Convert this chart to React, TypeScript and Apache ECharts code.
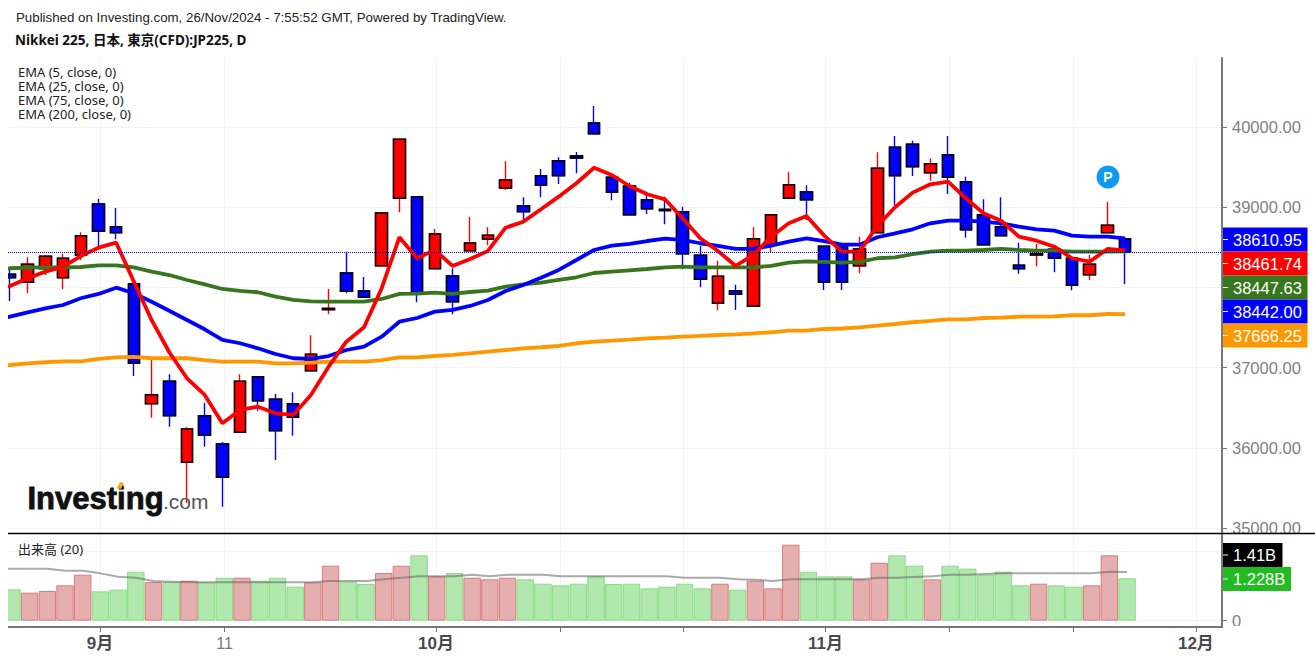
import React, { useEffect, useRef } from "react";
import * as echarts from "echarts";

const opens = [38163,38063,38233,38121,38400,39040,38757,38046,36550,36829,35819,36400,36047,36193,36886,36604,36550,36961,37722,38179,37955,38270,39111,39131,38233,38142,38457,38603,39239,39019,39393,39580,39638,40050,39373,39264,39093,38973,38944,38400,37802,37955,37764,38532,39111,39189,38512,38512,38270,38682,39747,39784,39430,39655,39318,38906,38757,38275,38404,38475,38363,38158,38682,38607];
const closes = [38121,38288,38388,38363,38645,38699,38682,37053,36662,36400,36234,36159,35632,36829,36587,36213,36380,37166,37738,37951,37876,38928,39847,37934,38666,37821,38553,38649,39339,38944,39277,39393,39613,39916,39186,38906,38981,38957,38420,38101,38138,37914,38607,38906,39280,39093,38063,38063,38479,39485,39393,39505,39542,39373,38719,38532,38645,38233,38420,38363,38026,38288,38774,38442];
const lows = [37830,37926,38154,37980,38341,38487,38600,36895,36375,36263,35311,36013,35265,36193,36462,35847,36150,36961,37664,37926,37876,38270,38936,37814,38233,37664,38457,38525,39214,38819,39123,39289,39423,39916,39086,38906,38915,38787,38225,38001,37718,37718,37764,38438,39111,38840,37967,37967,38176,38682,39027,39389,39330,39165,38620,38532,38645,38171,38267,38188,37964,38092,38682,38038];
const highs = [38225,38375,38404,38416,38687,39102,38990,38092,37116,36916,36255,36562,36072,36916,36886,36671,36692,37402,37980,38445,38129,38928,39847,39131,38728,38238,38878,38749,39572,39123,39476,39622,39688,40262,39373,39305,39193,39131,39006,38516,38333,38033,38749,38906,39435,39273,38512,38512,38632,39685,39888,39829,39610,39888,39380,39098,39123,38557,38541,38532,38383,38404,39065,38607];
const ema5 = [38017,38113,38196,38258,38391,38495,38557,38071,37593,37191,36866,36658,36305,36471,36512,36430,36409,36658,37011,37323,37502,37989,38625,38363,38466,38267,38354,38454,38744,38819,38974,39131,39298,39492,39401,39264,39161,39098,38861,38612,38454,38267,38404,38632,38799,38890,38645,38445,38445,38765,38999,39181,39285,39318,39111,38924,38832,38632,38582,38507,38363,38320,38479,38462];
const ema25 = [37634,37689,37739,37780,37864,37918,37996,37926,37821,37709,37593,37477,37344,37303,37240,37169,37116,37107,37144,37219,37260,37385,37572,37618,37697,37718,37768,37843,37955,38030,38121,38217,38341,38466,38520,38541,38578,38607,38591,38550,38516,38479,38479,38520,38570,38610,38576,38532,38532,38625,38674,38724,38799,38832,38832,38819,38799,38757,38724,38707,38645,38632,38632,38611];
const ema75 = [38238,38245,38250,38250,38254,38275,38275,38250,38196,38154,38092,38038,37980,37955,37939,37884,37843,37826,37821,37821,37821,37855,37918,37921,37934,37918,37942,37959,38009,38038,38058,38092,38126,38179,38196,38213,38229,38250,38258,38250,38250,38250,38250,38267,38308,38325,38317,38308,38317,38363,38375,38413,38445,38457,38457,38466,38479,38466,38457,38457,38445,38445,38445,38448];
const ema200 = [37032,37053,37066,37078,37078,37107,37128,37132,37116,37116,37116,37094,37073,37073,37073,37053,37053,37061,37073,37073,37073,37094,37128,37128,37144,37157,37178,37198,37219,37240,37253,37269,37303,37323,37335,37348,37365,37373,37385,37394,37406,37415,37427,37440,37460,37460,37481,37487,37502,37522,37543,37565,37581,37602,37602,37618,37622,37634,37634,37639,37652,37652,37668,37666];
const volumes = [0.908,0.812,0.86,1.024,1.333,0.85,0.899,1.42,1.121,1.121,1.159,1.111,1.246,1.246,1.159,1.246,0.986,1.111,1.594,1.13,1.063,1.382,1.594,1.894,1.285,1.382,1.246,1.198,1.246,1.198,1.072,1.024,1.072,1.285,1.063,1.072,0.937,0.986,1.072,0.937,1.072,0.899,1.159,0.937,2.203,1.42,1.285,1.285,1.198,1.681,1.894,1.594,1.198,1.594,1.507,1.333,1.42,1.024,1.072,1.024,0.986,1.024,1.894,1.228];
const volumeMa = [1.507,1.507,1.507,1.449,1.449,1.372,1.275,1.246,1.15,1.13,1.111,1.111,1.111,1.111,1.111,1.111,1.111,1.111,1.15,1.15,1.15,1.198,1.246,1.285,1.285,1.285,1.333,1.285,1.333,1.333,1.333,1.285,1.285,1.285,1.285,1.285,1.285,1.285,1.246,1.246,1.246,1.198,1.188,1.15,1.198,1.198,1.198,1.198,1.198,1.246,1.246,1.266,1.285,1.333,1.333,1.353,1.372,1.372,1.372,1.372,1.372,1.372,1.42,1.41];
const priorEma5 = 37950;
const priorEma25 = 37590;
const priorEma75 = 38232;
const priorEma200 = 37015;
const priorVolumeMa = 1.507;

const monthTicks = [5.08, 12.12, 24.07, 31.07, 38.05, 46.07, 53.05, 60.06, 67];
const monthLabels: [number, string][] = [[5.08, "9月"], [12.12, "11"], [24.07, "10月"], [46.07, "11月"], [67, "12月"]];
const priceTicks = [35000, 36000, 37000, 38000, 39000, 40000];
const priceTags: [string, string][] = [["38610.95", "#0000ff"], ["38461.74", "#ff0000"], ["38447.63", "#38761d"], ["38442.00", "#0000ff"], ["37666.25", "#ff9800"]];
const emaLegend = ["EMA (5, close, 0)", "EMA (25, close, 0)", "EMA (75, close, 0)", "EMA (200, close, 0)"];
const lastClose = 38442;

const SANS = '"Liberation Sans", "Noto Sans CJK JP", sans-serif';
const NOTO = '"Noto Sans", "Noto Sans CJK JP", sans-serif';
const AXIS = "#777777";
// Volume panel is drawn a shade to the right of the candles, as in the source chart.
const VOL_SHIFT = 0.11;
const withPrior = (prior: number, a: number[]) => [[-1, prior], ...a.map((v, i) => [i, v])];
const whiteTick = (y: number) => ({ type: "line", z: 21, shape: { x1: 1223, y1: y, x2: 1228, y2: y }, style: { stroke: "#f0f0f0", lineWidth: 1 } });

export default function App() {
  const ref = useRef<HTMLDivElement>(null);
  useEffect(() => {
    document.body.style.margin = "0";
    const chart = echarts.init(ref.current!, null, { renderer: "svg" });
    const emaLine = (name: string, data: number[], prior: number, color: string) => ({
      name, type: "line", data: withPrior(prior, data), showSymbol: false, symbol: "none", silent: true, clip: true,
      lineStyle: { color, width: 3.8 }, xAxisIndex: 0, yAxisIndex: 0,
    });
    const splitLine = { show: true, lineStyle: { color: "#f3f3f3", width: 1 } };
    const volTicks = monthTicks.map((t) => t - VOL_SHIFT);
    chart.setOption({
      animation: false,
      backgroundColor: "#ffffff",
      grid: [
        { left: 8, top: 58, width: 1214, height: 475 },
        { left: 8, top: 534, width: 1214, height: 93 },
      ],
      xAxis: [
        {
          type: "value", min: -0.113, max: 68.475, gridIndex: 0, splitLine,
          axisLine: { show: false }, axisTick: { show: false, customValues: monthTicks }, axisLabel: { show: false, customValues: monthTicks },
        },
        {
          type: "value", min: -0.113 - VOL_SHIFT, max: 68.475 - VOL_SHIFT, gridIndex: 1, splitLine,
          axisLine: { onZero: false, lineStyle: { color: AXIS, width: 2 } },
          axisTick: { show: true, length: 5, customValues: volTicks, lineStyle: { color: AXIS } },
          axisLabel: {
            show: true, margin: 8,
            customValues: monthLabels.map((m) => m[0] - VOL_SHIFT),
            formatter: (v: number) => {
              const t = monthLabels.find((m) => Math.abs(m[0] - VOL_SHIFT - v) < 1e-6)?.[1] ?? "";
              return t.includes("月") ? `{b|${t}}` : `{n|${t}}`;
            },
            rich: {
              b: { fontFamily: SANS, fontSize: 17, fontWeight: "bold", color: "#4a4a4a" },
              n: { fontFamily: SANS, fontSize: 16, color: "#787878" },
            },
            hideOverlap: false,
          },
        },
      ],
      yAxis: [
        {
          type: "value", gridIndex: 0, position: "right", min: 34937, max: 40860, splitLine,
          axisLine: { show: true, onZero: false, lineStyle: { color: AXIS, width: 2 } },
          axisTick: { show: true, length: 5, customValues: priceTicks, lineStyle: { color: AXIS } },
          axisLabel: { show: true, margin: 10, customValues: priceTicks, color: "#808080", fontFamily: SANS, fontSize: 16.5, formatter: (v: number) => v.toFixed(2) },
        },
        {
          type: "value", gridIndex: 1, position: "right", min: -0.183, max: 2.513, splitLine,
          axisLine: { show: true, onZero: false, lineStyle: { color: AXIS, width: 2 } },
          axisTick: { show: true, length: 5, customValues: [0, 2], lineStyle: { color: AXIS } },
          axisLabel: { show: true, margin: 10, customValues: [0], color: "#808080", fontFamily: SANS, fontSize: 16.5, formatter: () => "0" },
        },
      ],
      series: [
        emaLine("EMA 200", ema200, priorEma200, "#ff9800"),
        emaLine("EMA 75", ema75, priorEma75, "#38761d"),
        emaLine("EMA 25", ema25, priorEma25, "#0000ff"),
        emaLine("EMA 5", ema5, priorEma5, "#ff0000"),
        {
          name: "wicks", type: "candlestick", barWidth: 12, silent: true, clip: true, xAxisIndex: 0, yAxisIndex: 0,
          data: opens.map((o, i) => [i, o, closes[i], lows[i], highs[i]]),
          itemStyle: { color: "#ff0000", color0: "#0000ff", borderColor: "#ff0000", borderColor0: "#0000ff", borderColorDoji: "#ff0000", borderWidth: 1.4 },
        },
        {
          name: "bodies", type: "candlestick", barWidth: 12, silent: true, clip: true, xAxisIndex: 0, yAxisIndex: 0,
          data: opens.map((o, i) => [i, o, closes[i], Math.min(o, closes[i]), Math.max(o, closes[i])]),
          itemStyle: { color: "#ff0000", color0: "#0000ff", borderColor: "#000000", borderColor0: "#000000", borderColorDoji: "#000000", borderWidth: 1.5 },
          markLine: {
            silent: true, symbol: "none", animation: false, label: { show: false },
            lineStyle: { color: "#0000ff", type: [1, 1], width: 1 },
            data: [{ yAxis: lastClose }],
          },
        },
        {
          name: "出来高", type: "bar", xAxisIndex: 1, yAxisIndex: 1, barWidth: 17.4, silent: true, clip: true,
          data: volumes.map((v, i) => ({
            value: [i, v],
            itemStyle: closes[i] > opens[i]
              ? { color: "#e6afaf", borderColor: "#d97b7b", borderWidth: 1 }
              : { color: "#b0e8ae", borderColor: "#8adb85", borderWidth: 1 },
          })),
        },
        {
          name: "MA 20", type: "line", xAxisIndex: 1, yAxisIndex: 1, data: withPrior(priorVolumeMa, volumeMa), symbol: "none", silent: true, clip: true,
          lineStyle: { color: "rgba(100,100,100,0.55)", width: 2 },
        },
      ],
      graphic: [
        { type: "rect", z: 19, shape: { x: 0, y: 58, width: 8, height: 570 }, style: { fill: "#ffffff" } },
        { type: "rect", z: 19, shape: { x: 1224, y: 534, width: 91, height: 12 }, style: { fill: "#ffffff" } },
        { type: "rect", z: 19, shape: { x: 1229, y: 626, width: 40, height: 8 }, style: { fill: "#ffffff" } },
        { type: "text", x: 16, y: 17, style: { text: "Published on Investing.com, 26/Nov/2024 - 7:55:52 GMT, Powered by TradingView.", fill: "#222222", font: `13.3px ${SANS}`, textVerticalAlign: "middle" } },
        { type: "text", x: 15, y: 40, style: { text: "Nikkei 225, 日本, 東京(CFD):JP225, D", fill: "#111111", font: `bold 13.5px ${NOTO}`, textVerticalAlign: "middle" } },
        { type: "text", x: 18, y: 65, z: 10, style: { text: emaLegend.join("\n"), fill: "#222222", font: `13px ${NOTO}`, lineHeight: 14 } },
        { type: "text", x: 18, y: 549, z: 10, style: { text: "出来高 (20)", fill: "#222222", font: `13px ${NOTO}`, textVerticalAlign: "middle" } },
        { type: "line", z: 20, shape: { x1: 8, y1: 533.5, x2: 1315, y2: 533.5 }, style: { stroke: "#000000", lineWidth: 1.5 } },
        ...priceTags.flatMap(([t, c], i) => [
          { type: "rect", z: 20, shape: { x: 1223, y: 227.5 + i * 24, width: 84.5, height: 24 }, style: { fill: c } },
          { type: "text", z: 21, x: 1233, y: 239.5 + i * 24, style: { text: t, fill: "#ffffff", font: `16.5px ${SANS}`, textVerticalAlign: "middle" } },
          whiteTick(239.5 + i * 24),
        ]),
        { type: "rect", z: 20, shape: { x: 1223, y: 543, width: 59.5, height: 24 }, style: { fill: "#000000" } },
        { type: "text", z: 21, x: 1233, y: 555, style: { text: "1.41B", fill: "#ffffff", font: `16.5px ${SANS}`, textVerticalAlign: "middle" } },
        whiteTick(555),
        { type: "rect", z: 20, shape: { x: 1223, y: 567, width: 68, height: 24 }, style: { fill: "#22bb22" } },
        { type: "text", z: 21, x: 1233, y: 579, style: { text: "1.228B", fill: "#ffffff", font: `16.5px ${SANS}`, textVerticalAlign: "middle" } },
        whiteTick(579),
        { type: "circle", z: 20, shape: { cx: 1108, cy: 177, r: 11.5 }, style: { fill: "#0f9af0" } },
        { type: "text", z: 21, x: 1108, y: 177, style: { text: "P", fill: "#ffffff", font: `bold 14px ${SANS}`, textAlign: "center", textVerticalAlign: "middle" } },
        { type: "text", z: 10, x: 27.5, y: 498, style: { text: "Investing", fill: "#111111", stroke: "#111111", lineWidth: 0.8, font: `bold 31px ${SANS}`, textVerticalAlign: "middle" } },
        { type: "text", z: 10, x: 163, y: 501, style: { text: ".com", fill: "#555555", font: `21px ${SANS}`, textVerticalAlign: "middle" } },
        { type: "polygon", z: 11, shape: { points: [[117, 488], [120, 482], [124, 483], [121, 489]] }, style: { fill: "#f7a21b" } },
      ],
    });
    return () => chart.dispose();
  }, []);
  return <div ref={ref} style={{ position: "fixed", left: 0, top: 0, width: 1315, height: 660 }} />;
}
